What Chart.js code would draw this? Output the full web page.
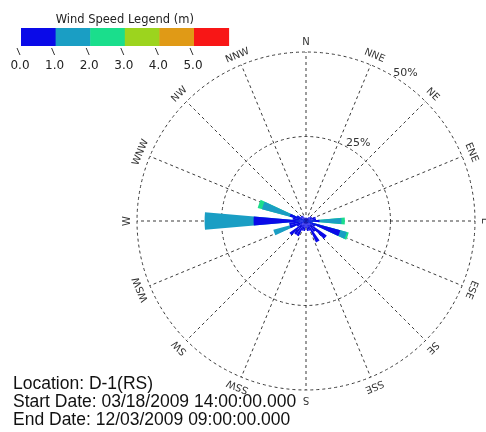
<!DOCTYPE html>
<html>
<head>
<meta charset="utf-8">
<script src="https://cdn.jsdelivr.net/npm/chart.js@4.4.0/dist/chart.umd.min.js"></script>
<style>
  html, body { margin: 0; padding: 0; background: #ffffff; }
  #wrap { position: relative; width: 486px; height: 432px; overflow: hidden; background: #ffffff; }
  #rose { position: absolute; left: 0; top: 0; }
  #info { position: absolute; left: 13px; top: 374px; font-family: "Liberation Sans", Arial, sans-serif;
          font-size: 17.5px; line-height: 18px; color: #111; white-space: nowrap; }
</style>
</head>
<body>
<div id="wrap">
  <canvas id="rose" width="486" height="432"></canvas>
  <div id="info">
    <div>Location: D-1(RS)</div>
    <div>Start Date: 03/18/2009 14:00:00.000</div>
    <div>End Date: 12/03/2009 09:00:00.000</div>
  </div>
</div>
<script>
// 36 direction bins, 10 degrees each, centred on 0, 10, ... 350 (degrees from north)
const directions = [0,10,20,30,40,50,60,70,80,90,100,110,120,130,140,150,160,170,
                    180,190,200,210,220,230,240,250,260,270,280,290,300,310,320,330,340,350];

// Frequency (%) per speed class for each direction bin
const speed0to1 = [1,1,1,1,1.5,2,2,3,3,4,2,10.5,3,7.5,4,7,3,3,
                   2,3,3,5,5,6,3,5,5,15.5,4,5,3,2,2,1.5,1,1];
const speed1to2 = [0,0,0,0,0,0,0,0,0,6.5,0,2,0,0,0,0,0,0,
                   0,0,0,0,0,0,0,5,0,14.5,0,8.5,0,0,0,0,0,0];
const speed2to3 = [0,0,0,0,0,0,0,0,0,1,0,0.6,0,0,0,0,0,0,
                   0,0,0,0,0,0,0,0,0,0,0,1.3,0,0,0,0,0,0];
const speed3to4 = new Array(36).fill(0);
const speed4to5 = new Array(36).fill(0);
const speed5up  = new Array(36).fill(0);

const speedClasses = [speed0to1, speed1to2, speed2to3, speed3to4, speed4to5, speed5up];
const speedColors = ['#0a0ae8', '#1a9ec4', '#1ade8c', '#9cd41e', '#e09a16', '#f81616'];
const speedTickLabels = ['0.0', '1.0', '2.0', '3.0', '4.0', '5.0'];

const compassNames = ['N','NNE','NE','ENE','E','ESE','SE','SSE','S','SSW','SW','WSW','W','WNW','NW','NNW'];
const ringValues = [25, 50];
const ringLabels = ['25%', '50%'];

// Stack the classes: each dataset holds the cumulative total up to its class.
// Chart.js paints dataset 0 last, so the slowest class ends up on top.
const datasets = speedClasses.map((cls, k) => {
  const cumulative = directions.map((_, i) => {
    let s = 0;
    for (let j = 0; j <= k; j++) s += speedClasses[j][i];
    return s;
  });
  return {
    label: speedTickLabels[k],
    data: cumulative,
    backgroundColor: (ctx) => (cls[ctx.dataIndex] > 0 ? speedColors[k] : 'rgba(0,0,0,0)'),
    borderWidth: 0
  };
});

const roseDecor = {
  id: 'roseDecor',
  beforeDatasetsDraw(chart) {
    const r = chart.scales.r;
    const ctx = chart.ctx;
    const R = r.getDistanceFromCenterForValue(50);
    ctx.save();
    ctx.strokeStyle = '#3a3a3a';
    ctx.lineWidth = 1;
    ctx.setLineDash([3, 3]);
    for (let i = 0; i < 16; i++) {
      const a = (i * 22.5) * Math.PI / 180 - Math.PI / 2;
      ctx.beginPath();
      ctx.moveTo(r.xCenter, r.yCenter);
      ctx.lineTo(r.xCenter + Math.cos(a) * R, r.yCenter + Math.sin(a) * R);
      ctx.stroke();
    }
    ctx.restore();
  },
  afterDraw(chart) {
    const r = chart.scales.r;
    const ctx = chart.ctx;
    const R = r.getDistanceFromCenterForValue(50);
    ctx.save();
    // compass point names, rotated to face outward
    ctx.fillStyle = '#333';
    ctx.font = '10px "DejaVu Sans"';
    ctx.textAlign = 'center';
    ctx.textBaseline = 'middle';
    compassNames.forEach((name, i) => {
      const deg = i * 22.5;
      const a = deg * Math.PI / 180 - Math.PI / 2;
      const d = R + 10;
      ctx.save();
      ctx.translate(r.xCenter + Math.cos(a) * d, r.yCenter + Math.sin(a) * d);
      ctx.rotate(deg * Math.PI / 180);
      ctx.fillText(name, 0, 0);
      ctx.restore();
    });
    // ring percentages
    ctx.font = '11px "DejaVu Sans"';
    ringValues.forEach((v, i) => {
      const a = 34 * Math.PI / 180 - Math.PI / 2;
      const d = r.getDistanceFromCenterForValue(v) + 9;
      ctx.fillText(ringLabels[i], r.xCenter + Math.cos(a) * d, r.yCenter + Math.sin(a) * d);
    });
    // speed legend bar
    const x0 = 21, y0 = 28, w = 34.6, h = 18;
    ctx.fillStyle = '#222';
    ctx.font = '11.5px "DejaVu Sans"';
    ctx.fillText('Wind Speed Legend (m)', x0 + 3 * w, 20);
    speedColors.forEach((c, i) => {
      ctx.fillStyle = c;
      ctx.fillRect(x0 + i * w, y0, w + 0.5, h);
    });
    ctx.strokeStyle = '#333';
    ctx.lineWidth = 1;
    ctx.fillStyle = '#222';
    ctx.font = '12px "DejaVu Sans"';
    speedTickLabels.forEach((t, i) => {
      const bx = x0 + i * w;
      ctx.beginPath();
      ctx.moveTo(bx - 4, 48);
      ctx.lineTo(bx - 1, 55);
      ctx.stroke();
      ctx.fillText(t, bx - 1, 66);
    });
    ctx.restore();
  }
};

new Chart(document.getElementById('rose'), {
  type: 'polarArea',
  data: { labels: directions.map(String), datasets: datasets },
  options: {
    responsive: false,
    animation: false,
    devicePixelRatio: 1,
    layout: { padding: { left: 137, top: 52, right: 11, bottom: 42 } },
    plugins: { legend: { display: false }, tooltip: { enabled: false } },
    elements: { arc: { borderWidth: 0 } },
    scales: {
      r: {
        min: 0,
        max: 50,
        startAngle: -5,
        ticks: { display: false, stepSize: 25 },
        grid: { circular: true, color: '#3a3a3a', lineWidth: 1 },
        border: { dash: [3, 3] },
        angleLines: { display: false },
        pointLabels: { display: false }
      }
    }
  },
  plugins: [roseDecor]
});
</script>
</body>
</html>
